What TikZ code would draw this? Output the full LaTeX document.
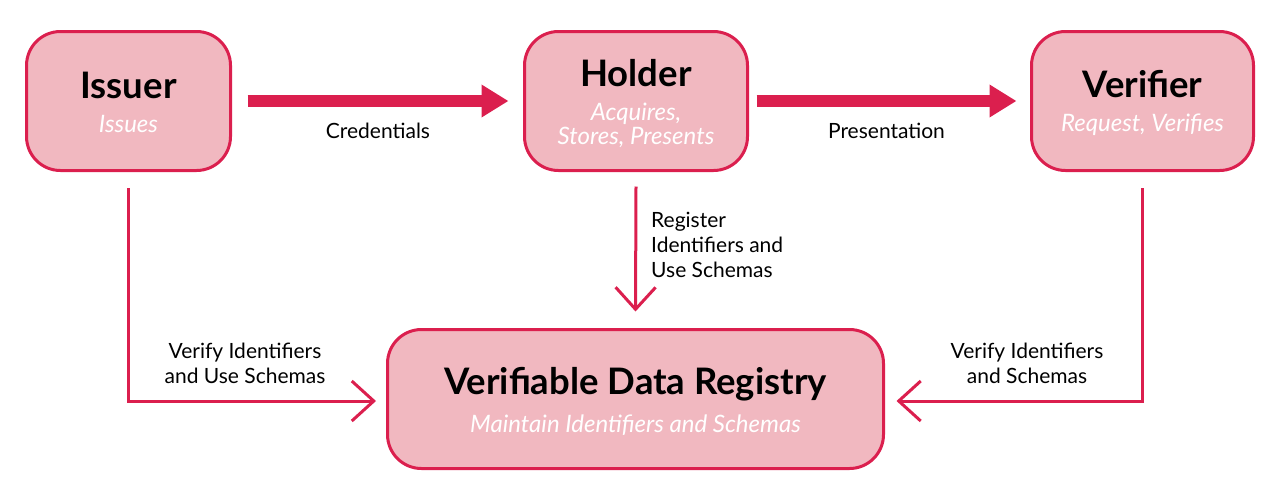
\documentclass[tikz,border=0pt]{standalone}
\usepackage{fontspec}
\setmainfont{Lato}
\usetikzlibrary{arrows.meta}
\definecolor{crim}{HTML}{DB1F4E}
\definecolor{pinkfill}{HTML}{F1B8C0}
\begin{document}
\begin{tikzpicture}[x=1pt,y=-1pt,
  box/.style={draw=crim, fill=pinkfill, line width=3pt, rounded corners=34pt, inner sep=0pt},
  ttl/.style={font=\fontsize{36.5}{40}\selectfont\bfseries, text=black, inner sep=0pt, anchor=base},
  sub/.style={font=\fontsize{24}{24}\selectfont\itshape, text=white, inner sep=0pt, anchor=base},
  lab/.style={font=\fontsize{21}{25}\selectfont, text=black, inner sep=0pt, anchor=base},
  bigarrow/.style={draw=crim, line width=12pt, -{Triangle[length=27pt,width=31pt]}},
  thinarrow/.style={draw=crim, line width=3pt, -{Straight Barb[length=22pt,width=40pt]}}
]
\useasboundingbox (0,0) rectangle (1280,498);

% boxes
\node[box, minimum width=204pt, minimum height=139pt] (issuer) at (128.5,101) {};
\node[box, minimum width=223pt, minimum height=139pt] (holder) at (636,101) {};
\node[box, minimum width=222pt, minimum height=139pt] (verifier) at (1142.5,101) {};
\node[box, minimum width=496pt, minimum height=139pt] (vdr) at (635.5,399) {};

% texts in boxes
\node[ttl] (issuerT) at (128.5,98) {Issuer};
\node[sub] (issuerS) at (128.5,132) {Issues};
\node[ttl] (holderT) at (636,86) {Holder};
\node[sub] (holderS1) at (636,120) {Acquires,};
\node[sub] (holderS2) at (636,144) {Stores, Presents};
\node[ttl] (verifierT) at (1142.5,97) {Verifier};
\node[sub] (verifierS) at (1142.5,131) {Request, Verifies};
\node[ttl] (vdrT) at (635.5,394) {Verifiable Data Registry};
\node[sub] (vdrS) at (635.5,432) {Maintain Identifiers and Schemas};

% thick arrows
\draw[bigarrow] ([xshift=15.5pt]issuer.east) -- ([xshift=-14.5pt]holder.west);
\draw[bigarrow] ([xshift=7.5pt]holder.east) -- ([xshift=-13.5pt]verifier.west);
\node[lab] (cred) at (378,138) {Credentials};
\node[lab] (pres) at (886.5,138) {Presentation};

% thin arrows
\draw[thinarrow] ([yshift=-14.5pt]holder.south) -- ([yshift=16.5pt]vdr.north);
\draw[thinarrow] ([yshift=-16pt]issuer.south) |- ([xshift=-10pt,yshift=-2pt]vdr.west);
\draw[thinarrow] ([yshift=-16pt]verifier.south) |- ([xshift=11.5pt,yshift=-2pt]vdr.east);

% labels (base anchor = last line baseline)
\node[lab, anchor=base west, align=left] (reg) at (651,277) {Register\\Identifiers and\\Use Schemas};
\node[lab, align=center] (vl) at (245,383) {Verify Identifiers\\and Use Schemas};
\node[lab, align=center] (vr) at (1027,383) {Verify Identifiers\\and Schemas};
\end{tikzpicture}
\end{document}
